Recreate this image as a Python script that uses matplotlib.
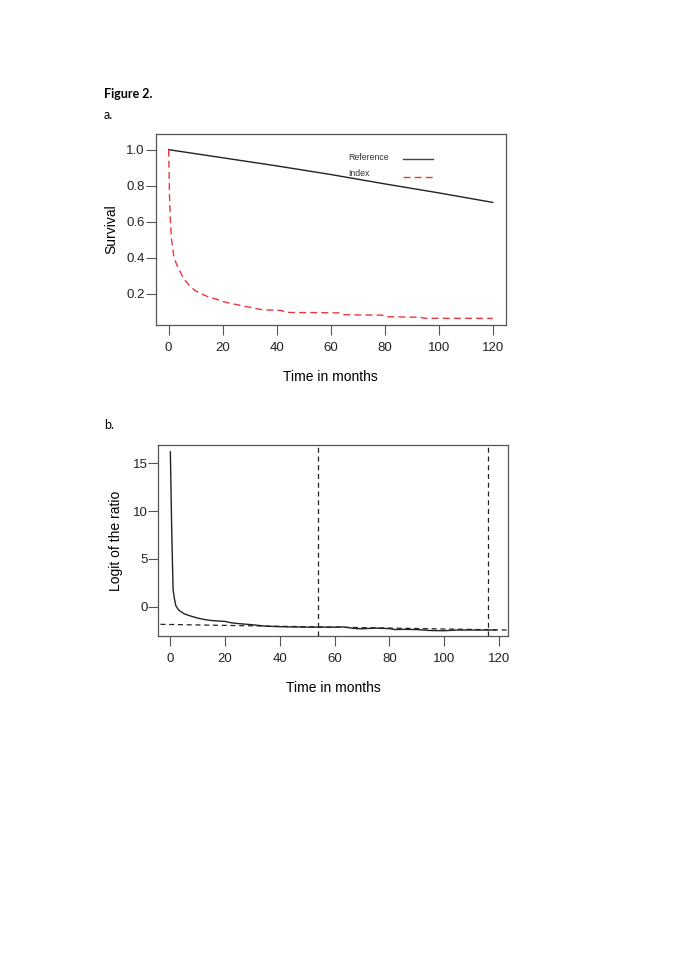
import numpy as np
import matplotlib
matplotlib.use("Agg")
import matplotlib.pyplot as plt

# panel a: survival curves
ref_t = [0, 20, 40, 60, 80, 100, 120]
ref_s = [1.0, 0.955, 0.91, 0.862, 0.81, 0.76, 0.707]

idx_t = [0, 0.3, 0.6, 1, 1.5, 2, 3, 4, 5, 6, 8, 10, 12, 15, 18, 20, 23, 25, 28, 30,
         33, 35, 40, 42, 43, 50, 55, 63, 65, 70, 79, 80, 85, 93, 95, 100, 110, 120]
idx_s = [1.0, 0.75, 0.62, 0.51, 0.45, 0.40, 0.36, 0.33, 0.30, 0.275, 0.24, 0.215, 0.20,
         0.18, 0.168, 0.157, 0.145, 0.14, 0.13, 0.125, 0.115, 0.11, 0.108, 0.106, 0.096,
         0.095, 0.095, 0.093, 0.083, 0.082, 0.081, 0.072, 0.071, 0.069, 0.063, 0.063,
         0.063, 0.063]

# panel b: logit of the ratio
logit_t = [0, 0.5, 1, 1.5, 2, 3, 4, 5, 7, 10, 13, 15, 18, 20, 22, 25, 30, 35, 40, 45,
           50, 55, 60, 63, 65, 68, 70, 75, 80, 82, 85, 90, 95, 100, 105, 110, 115, 119]
logit_v = [16.2, 8.0, 1.8, 0.8, 0.1, -0.35, -0.55, -0.75, -0.95, -1.2, -1.38, -1.45,
           -1.52, -1.55, -1.68, -1.78, -1.9, -2.05, -2.1, -2.13, -2.15, -2.15, -2.15,
           -2.12, -2.2, -2.3, -2.32, -2.25, -2.3, -2.4, -2.38, -2.4, -2.5, -2.52, -2.45,
           -2.45, -2.45, -2.45]
fit_a, fit_b = -1.87, -0.0047
vlines_b = [54, 116]

plt.rcParams['font.family'] = ['Liberation Sans', 'DejaVu Sans']

fig = plt.figure(figsize=(6.85, 9.69), dpi=100)

def style_axes(ax):
    for s in ax.spines.values():
        s.set_color('#555555')
        s.set_linewidth(0.9)
    ax.tick_params(direction='out', length=7, width=0.8, colors='#555555',
                   labelsize=9.5, labelcolor='#222222')
    ax.tick_params(axis='x', pad=5)
    ax.tick_params(axis='y', pad=0.8)

# figure labels
fig.text(104 / 685, 1 - 94 / 969, "Figure 2.", fontsize=9, fontweight='bold',
         family=['Lato', 'DejaVu Sans'], va='center', ha='left')
fig.text(104 / 685, 1 - 115 / 969, "a.", fontsize=9, family=['Lato', 'DejaVu Sans'],
         va='center', ha='left')
fig.text(104 / 685, 1 - 425 / 969, "b.", fontsize=9, family=['Lato', 'DejaVu Sans'],
         va='center', ha='left')

# panel a
ax1 = fig.add_axes([0.2273, 0.6646, 0.511, 0.1971])
ax1.plot(ref_t, ref_s, color='#222222', lw=1.0)
ax1.plot(idx_t, idx_s, color='#e8383d', lw=1.0, ls=(0, (5, 3)))
ax1.set_xlim(-4.8, 124.8)
ax1.set_ylim(0.026, 1.087)
ax1.set_xticks([0, 20, 40, 60, 80, 100, 120])
ax1.set_yticks([0.2, 0.4, 0.6, 0.8, 1.0])
ax1.set_yticklabels(["0.2", "0.4", "0.6", "0.8", "1.0"])
ax1.set_xlabel("Time in months", fontsize=10, labelpad=11.5)
ax1.set_ylabel("Survival", fontsize=10, labelpad=6)
style_axes(ax1)

# legend drawn R-style: labels first, line samples after
ax1.text(0.550, 0.878, "Reference", transform=ax1.transAxes, fontsize=6.3,
         va='center', ha='left', color='#333333')
ax1.text(0.550, 0.794, "Index", transform=ax1.transAxes, fontsize=6.3,
         va='center', ha='left', color='#333333')
ax1.plot([0.706, 0.792], [0.869, 0.869], transform=ax1.transAxes, color='#444444', lw=1.0)
ax1.plot([0.706, 0.792], [0.773, 0.773], transform=ax1.transAxes, color='#e8383d', lw=1.0,
         ls=(0, (5, 3)))

# panel b
ax2 = fig.add_axes([0.2311, 0.3437, 0.511, 0.1971])
ax2.plot(logit_t, logit_v, color='#222222', lw=1.0)
xx = np.array([-10, 130])
ax2.plot(xx, fit_a + fit_b * xx, color='#222222', lw=0.9, ls=(0, (4, 3)))
for v in vlines_b:
    ax2.axvline(v, color='#222222', lw=0.9, ls=(0, (4, 3)))
ax2.set_xlim(-4.4, 123.5)
ax2.set_ylim(-3.07, 16.92)
ax2.set_xticks([0, 20, 40, 60, 80, 100, 120])
ax2.set_yticks([0, 5, 10, 15])
ax2.set_xlabel("Time in months", fontsize=10, labelpad=11.5)
ax2.set_ylabel("Logit of the ratio", fontsize=10, labelpad=7)
style_axes(ax2)

fig.savefig("out.png", dpi=100)
